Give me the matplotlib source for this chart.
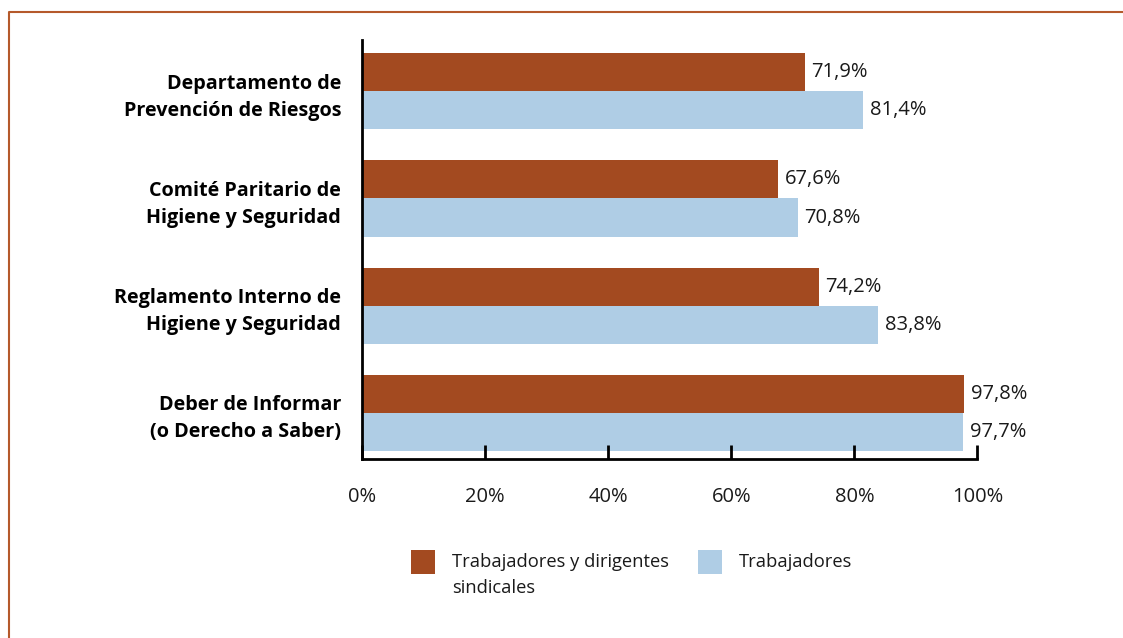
import matplotlib.pyplot as plt
import numpy as np
from matplotlib.patches import Rectangle
from matplotlib.lines import Line2D

plt.rcParams['font.family'] = ['Open Sans', 'DejaVu Sans']

# categorias (de arriba hacia abajo) y porcentajes por grupo
categorias = ['Departamento de\nPrevención de Riesgos',
              'Comité Paritario de\nHigiene y Seguridad',
              'Reglamento Interno de\nHigiene y Seguridad',
              'Deber de Informar\n(o Derecho a Saber)']
dirigentes = [71.9, 67.6, 74.2, 97.8]
trabajadores = [81.4, 70.8, 83.8, 97.7]
series = ['Trabajadores y dirigentes\nsindicales', 'Trabajadores']
colores = ['#A34A20', '#AFCDE5']
ticks_x = [0, 20, 40, 60, 80, 100]

fig = plt.figure(figsize=(11.23, 6.38), dpi=100)
ax = fig.add_axes([0.3224, 0.2806, 0.548, 0.657])

y = np.arange(len(categorias))
h = 0.355
ax.barh(y - h / 2, dirigentes, height=h, color=colores[0])
ax.barh(y + h / 2, trabajadores, height=h, color=colores[1])

for i in range(len(categorias)):
    ax.text(dirigentes[i] + 1.1, y[i] - h / 2, f'{dirigentes[i]:.1f}%'.replace('.', ','),
            va='center', ha='left', fontsize=14.5, color='#1a1a1a')
    ax.text(trabajadores[i] + 1.1, y[i] + h / 2, f'{trabajadores[i]:.1f}%'.replace('.', ','),
            va='center', ha='left', fontsize=14.5, color='#1a1a1a')

ax.set_ylim(3.43, -0.48)
ax.set_xlim(0, 100)
ax.set_yticks(y)
ax.set_yticklabels(categorias, fontsize=14.2, fontweight='bold', linespacing=1.45)
ax.tick_params(axis='y', length=0, pad=15)
ax.set_xticks(ticks_x)
ax.set_xticklabels([f'{t}%' for t in ticks_x], fontsize=14.5, color='#1a1a1a')
ax.tick_params(axis='x', direction='in', length=10, width=2, pad=20)
for s in ['top', 'right']:
    ax.spines[s].set_visible(False)
for s in ['left', 'bottom']:
    ax.spines[s].set_linewidth(2)

# leyenda dibujada a mano
leg_x = [411, 698]
for i in range(2):
    fig.add_artist(Rectangle((leg_x[i] / 1123, 1 - 574 / 638), 24 / 1123, 24 / 638,
                             transform=fig.transFigure, color=colores[i], lw=0))
    fig.text((leg_x[i] + 41) / 1123, 1 - 553 / 638, series[i], va='top', ha='left',
             fontsize=13.2, color='#1a1a1a', linespacing=1.6)

# marco
fig.add_artist(Line2D([8.5 / 1123, 8.5 / 1123, 1], [0, 1 - 12 / 638, 1 - 12 / 638],
                      transform=fig.transFigure, color='#B5592B', lw=1.5))

fig.savefig('out.png', dpi=100)
